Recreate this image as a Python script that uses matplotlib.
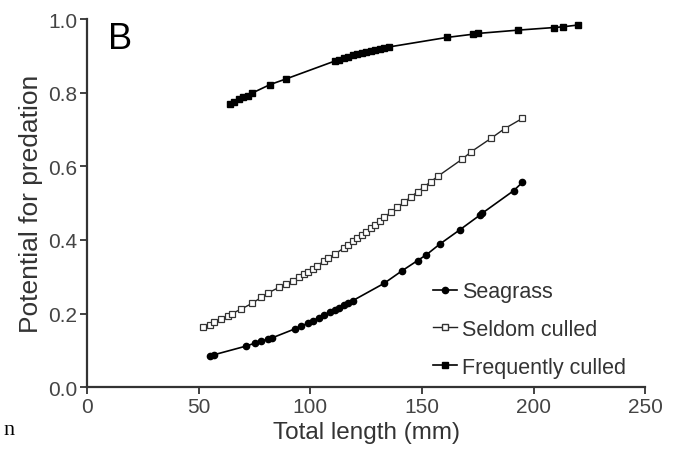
import matplotlib
matplotlib.use("Agg")
import matplotlib.pyplot as plt
from matplotlib.lines import Line2D

plt.rcParams['font.family'] = ['Liberation Sans', 'DejaVu Sans']

# Seagrass (filled circles)
seagrass_x = [55, 57, 71, 75, 78, 81, 83, 93, 96, 99, 101, 104, 106, 109, 111,
              113, 115, 117, 119, 133, 141, 148, 152, 158, 167, 176, 177, 191, 195]
seagrass_y = [0.085, 0.088, 0.111, 0.119, 0.125, 0.130, 0.134, 0.158, 0.166, 0.174,
              0.180, 0.189, 0.195, 0.204, 0.210, 0.216, 0.222, 0.228, 0.235, 0.282,
              0.316, 0.344, 0.360, 0.389, 0.428, 0.468, 0.473, 0.534, 0.557]

# Seldom culled (open squares)
seldom_x = [52, 55, 57, 60, 63, 65, 69, 74, 78, 81, 86, 89, 92, 95, 97, 99, 101, 103,
            106, 108, 111, 115, 117, 119, 121, 123, 125, 127, 129, 131, 133, 136, 139,
            142, 145, 148, 151, 154, 157, 168, 172, 181, 187, 195]
seldom_y = [0.162, 0.170, 0.176, 0.185, 0.194, 0.200, 0.212, 0.228, 0.244, 0.256,
            0.271, 0.280, 0.289, 0.300, 0.307, 0.314, 0.322, 0.330, 0.342, 0.350,
            0.362, 0.378, 0.387, 0.396, 0.405, 0.414, 0.423, 0.432, 0.441, 0.452,
            0.462, 0.475, 0.489, 0.503, 0.517, 0.531, 0.545, 0.559, 0.573, 0.620,
            0.640, 0.677, 0.703, 0.731]

# Frequently culled (filled squares)
freq_x = [64, 66, 68, 70, 72, 74, 82, 89, 111, 113, 115, 117, 119, 121, 123, 125,
          127, 129, 131, 133, 135, 161, 173, 175, 193, 209, 213, 220]
freq_y = [0.770, 0.776, 0.783, 0.789, 0.793, 0.800, 0.823, 0.838, 0.887, 0.890,
          0.894, 0.898, 0.902, 0.905, 0.908, 0.911, 0.914, 0.917, 0.920, 0.922,
          0.925, 0.951, 0.960, 0.962, 0.971, 0.978, 0.980, 0.985]

labels = ['Seagrass', 'Seldom culled', 'Frequently culled']
xticks = [0, 50, 100, 150, 200, 250]
yticks = [0.0, 0.2, 0.4, 0.6, 0.8, 1.0]

fig = plt.figure(figsize=(6.75, 4.6), dpi=100)
ax = fig.add_axes([0.129, 0.1565, 0.827, 0.799])

ax.plot(seagrass_x, seagrass_y, '-', color='black', lw=1.2, marker='o', ms=4.5,
        mfc='black', mec='black', label=labels[0])
ax.plot(seldom_x, seldom_y, '-', color='#222222', lw=1.0, marker='s', ms=4.3,
        mfc='white', mec='#333333', mew=0.9, label=labels[1])
ax.plot(freq_x, freq_y, '-', color='black', lw=1.2, marker='s', ms=4.5,
        mfc='black', mec='black', label=labels[2])

ax.set_xlim(0, 250)
ax.set_ylim(0, 1.0)
ax.set_xticks(xticks)
ax.set_yticks(yticks)
ax.set_yticklabels(['%.1f' % v for v in yticks])

for s in ['top', 'right']:
    ax.spines[s].set_visible(False)
for s in ['left', 'bottom']:
    ax.spines[s].set_linewidth(1.6)
    ax.spines[s].set_color('#333333')
ax.tick_params(colors='#333333', labelcolor='#444444', labelsize=15,
               width=1.3, length=5, pad=2)

ax.set_xlabel('Total length (mm)', fontsize=17.5, color='#333333', labelpad=4)
ax.set_ylabel('Potential for predation', fontsize=19, color='#333333', labelpad=4)

ax.text(0.037, 0.995, 'B', transform=ax.transAxes, fontsize=26, va='top', ha='left')

handles = [Line2D([0], [0], color='black', lw=1.2, marker='o', ms=4.5, mfc='black', mec='black'),
           Line2D([0], [0], color='#222222', lw=1.0, marker='s', ms=4.3, mfc='white', mec='#333333'),
           Line2D([0], [0], color='black', lw=1.2, marker='s', ms=4.5, mfc='black', mec='black')]
leg = ax.legend(handles, labels, loc='lower left', bbox_to_anchor=(0.62, 0.025),
                borderaxespad=0, borderpad=0, frameon=False, fontsize=15.5,
                handlelength=1.1, handletextpad=0.25, labelspacing=0.78,
                labelcolor='#333333')

fig.text(0.005, 0.055, 'n', family=['Liberation Serif', 'DejaVu Serif'], fontsize=16)

fig.savefig('out.png', dpi=100)
